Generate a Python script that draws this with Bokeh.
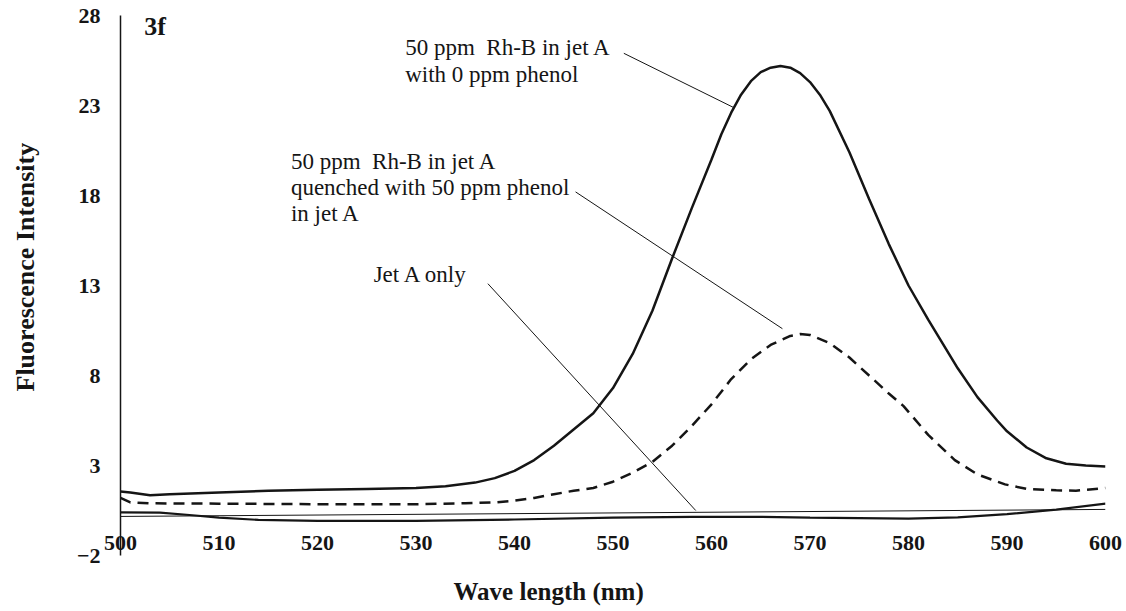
from bokeh.plotting import figure
from bokeh.models import Range1d, FixedTicker, Label, Title, LinearAxis
from bokeh.embed import file_html
from bokeh.resources import INLINE

# ---- data ----
wl_rhb0 = [500, 501, 503, 505, 510, 515, 520, 525, 530, 533, 536, 538, 540, 542, 544, 546, 548,
           550, 552, 554, 556, 558, 560, 561, 562, 563, 564, 565, 566, 567, 568, 569, 570, 571, 572,
           574, 576, 578, 580, 582, 583, 585, 587, 589, 590, 592, 594, 596, 598, 600]
int_rhb0 = [1.55, 1.5, 1.35, 1.4, 1.5, 1.6, 1.65, 1.7, 1.75, 1.85, 2.05, 2.3, 2.7, 3.3, 4.1, 5.0, 5.9,
            7.3, 9.2, 11.6, 14.5, 17.3, 20.0, 21.4, 22.6, 23.6, 24.35, 24.85, 25.1, 25.2, 25.1, 24.8, 24.3, 23.6, 22.7,
            20.4, 17.8, 15.3, 13.0, 11.1, 10.2, 8.4, 6.8, 5.5, 4.9, 4.0, 3.4, 3.1, 3.0, 2.95]

wl_rhb50 = [500, 501, 503, 510, 520, 530, 535, 538, 540, 542, 544, 546, 548, 550, 552, 554, 556, 558,
            559, 560, 562, 564, 566, 568, 569, 570, 572, 574, 576, 578, 579.5, 582, 584.7, 587, 589.8,
            592, 595, 597, 600]
int_rhb50 = [1.2, 0.95, 0.9, 0.88, 0.85, 0.85, 0.9, 0.95, 1.05, 1.2, 1.4, 1.6, 1.75, 2.1, 2.6, 3.2, 4.1, 5.2,
             5.8, 6.4, 7.8, 8.9, 9.7, 10.2, 10.3, 10.25, 9.8, 9.0, 8.0, 7.0, 6.3, 4.7, 3.3, 2.5, 1.95,
             1.7, 1.62, 1.6, 1.75]

wl_jeta = [500, 504, 507, 510, 514, 520, 530, 540, 550, 558, 565, 570, 580, 585, 590, 595, 600]
int_jeta = [0.4, 0.38, 0.25, 0.1, -0.02, -0.08, -0.08, 0.0, 0.1, 0.15, 0.15, 0.1, 0.05, 0.12, 0.3, 0.55, 0.88]

# horizontal axis line (crosses near zero, slightly skewed in the scan)
axis0_x = [500, 600]
axis0_y = [0.17, 0.56]

x_ticks = [500, 510, 520, 530, 540, 550, 560, 570, 580, 590, 600]
y_ticks = [-2, 3, 8, 13, 18, 23, 28]

# annotation texts and leader lines
ann_texts = [["50 ppm\u00a0 Rh-B in jet A", "with 0 ppm phenol"],
             ["50 ppm\u00a0 Rh-B in jet A", "quenched with 50 ppm phenol", "in jet A"],
             ["Jet A only"]]
leader_x = [[551.1, 562.2], [546.2, 567.2], [537.3, 558.4]]
leader_y = [[25.9, 22.9], [18.2, 10.6], [13.1, 0.5]]

SERIF = "Liberation Serif"
INK = "#151515"

p = figure(width=1124, height=611, x_range=Range1d(500, 600), y_range=Range1d(-2, 28),
           output_backend="svg", toolbar_location=None,
           min_border_left=120, min_border_right=19, min_border_top=15, min_border_bottom=56)
p.outline_line_color = None
p.grid.visible = False
p.background_fill_color = "white"
p.border_fill_color = "white"

# y axis
p.yaxis.ticker = FixedTicker(ticks=y_ticks)
p.yaxis.axis_line_color = INK
p.yaxis.axis_line_width = 1.5
p.yaxis.major_tick_line_color = None
p.yaxis.minor_tick_line_color = None
p.yaxis.major_tick_out = 0
p.yaxis.major_tick_in = 0
p.yaxis.major_label_standoff = 20
p.yaxis.major_label_text_font = SERIF
p.yaxis.major_label_text_font_style = "bold"
p.yaxis.major_label_text_font_size = "22px"
p.yaxis.major_label_text_color = INK


def spacer_axis(size, tick):
    # blank axis used only to reserve room between tick labels and a title
    return LinearAxis(ticker=FixedTicker(ticks=[tick]), major_label_overrides={tick: ""},
                      axis_line_color=None, major_tick_line_color=None, minor_tick_line_color=None,
                      major_tick_out=size, major_tick_in=0, minor_tick_out=0, minor_tick_in=0,
                      major_label_standoff=0, major_label_text_font_size="1px")


# left: spacer, then title
p.add_layout(spacer_axis(29, 13), "left")
p.add_layout(Title(text="Fluorescence Intensity", align="left", offset=164, standoff=10,
                   text_font=SERIF, text_font_style="bold", text_font_size="26px",
                   text_color=INK), "left")

# x axis
p.xaxis.ticker = FixedTicker(ticks=x_ticks)
p.xaxis.axis_line_color = None
p.xaxis.major_tick_line_color = None
p.xaxis.minor_tick_line_color = None
p.xaxis.major_tick_out = 0
p.xaxis.major_tick_in = 0
p.xaxis.major_label_standoff = -20
p.xaxis.major_label_text_font = SERIF
p.xaxis.major_label_text_font_style = "bold"
p.xaxis.major_label_text_font_size = "22px"
p.xaxis.major_label_text_color = INK

p.add_layout(spacer_axis(18, 550), "below")
p.add_layout(Title(text="Wave length (nm)", align="left", offset=333, standoff=4,
                   text_font=SERIF, text_font_style="bold", text_font_size="25px",
                   text_color=INK), "below")

# lines
p.line(axis0_x, axis0_y, line_color=INK, line_width=1)
p.line(wl_jeta, int_jeta, line_color=INK, line_width=2.2)
p.line(wl_rhb50, int_rhb50, line_color=INK, line_width=2.5, line_dash="11 7")
p.line(wl_rhb0, int_rhb0, line_color=INK, line_width=2.5)

for lx, ly in zip(leader_x, leader_y):
    p.line(lx, ly, line_color=INK, line_width=1)

# annotation texts (left-aligned blocks)
block_pos = [(528.9, 26.2), (517.3, 19.9), (525.7, 13.6)]
line_step = 1.45
for (bx, by), lines in zip(block_pos, ann_texts):
    for i, t in enumerate(lines):
        p.add_layout(Label(x=bx, y=by - i * line_step, text=t, text_font=SERIF,
                           text_font_size="23px", text_color=INK,
                           text_align="left", text_baseline="middle"))

# panel tag
p.add_layout(Label(x=502.4, y=27.4, text="3f", text_font=SERIF, text_font_style="bold",
                   text_font_size="26px", text_color=INK, text_align="left", text_baseline="middle"))

open("out.html", "w").write(file_html(p, INLINE))
